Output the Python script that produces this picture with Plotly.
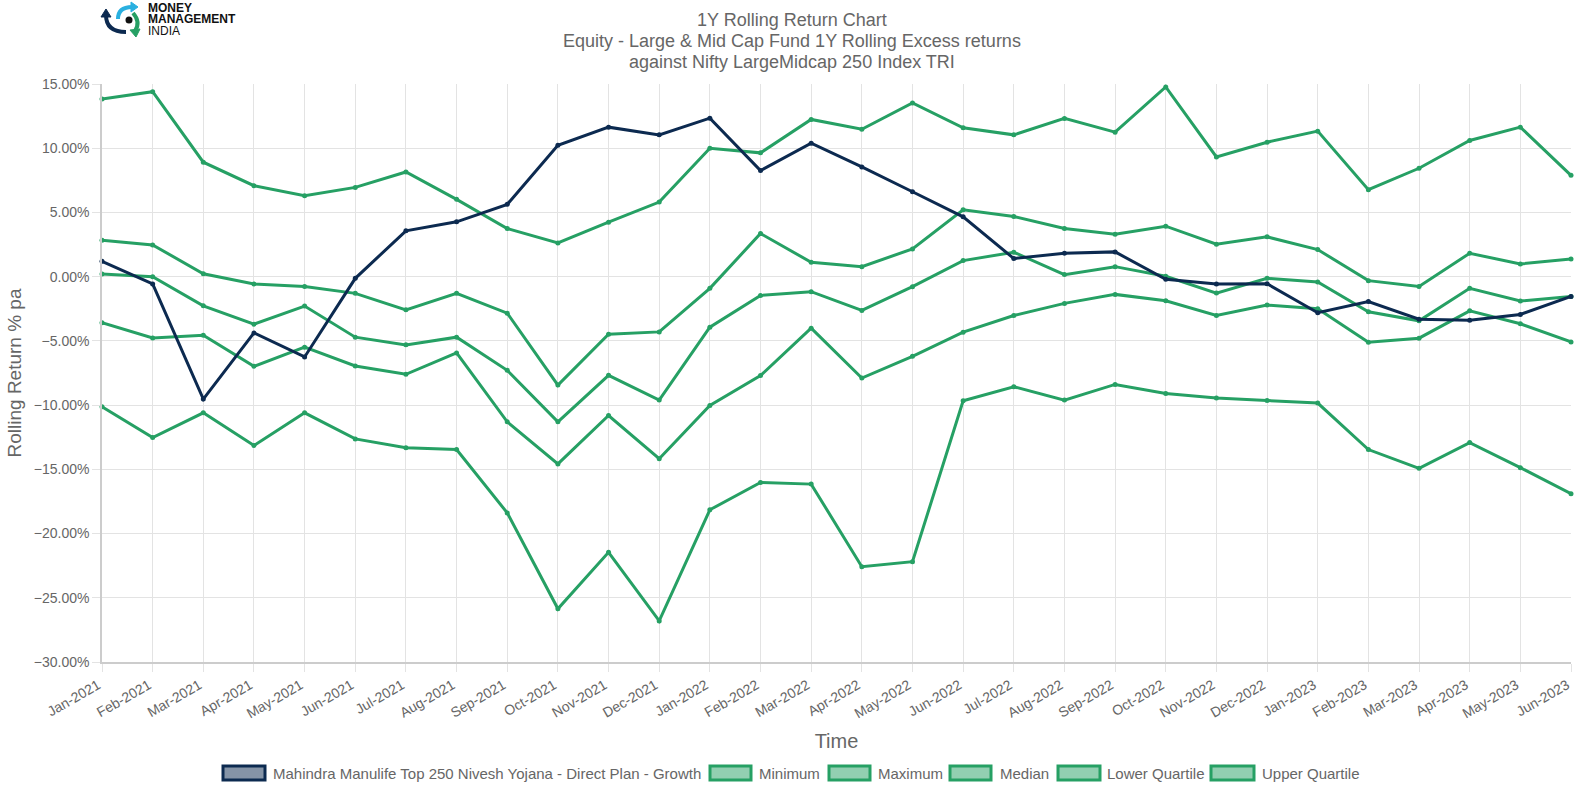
import plotly.graph_objects as go

months = ["Jan-2021", "Feb-2021", "Mar-2021", "Apr-2021", "May-2021", "Jun-2021", "Jul-2021", "Aug-2021",
          "Sep-2021", "Oct-2021", "Nov-2021", "Dec-2021", "Jan-2022", "Feb-2022", "Mar-2022", "Apr-2022",
          "May-2022", "Jun-2022", "Jul-2022", "Aug-2022", "Sep-2022", "Oct-2022", "Nov-2022", "Dec-2022",
          "Jan-2023", "Feb-2023", "Mar-2023", "Apr-2023", "May-2023", "Jun-2023"]

fund = [1.20, -0.57, -9.53, -4.38, -6.25, -0.13, 3.57, 4.27, 5.63, 10.23, 11.64, 11.04, 12.34, 8.26, 10.39,
        8.54, 6.61, 4.66, 1.41, 1.82, 1.93, -0.21, -0.57, -0.55, -2.81, -1.93, -3.31, -3.39, -2.94, -1.54]

minimum = [-10.13, -12.53, -10.60, -13.15, -10.60, -12.63, -13.31, -13.46, -18.39, -25.86, -21.46, -26.80,
           -18.15, -16.02, -16.15, -22.58, -22.19, -9.66, -8.57, -9.61, -8.39, -9.09, -9.45, -9.64, -9.84,
           -13.46, -14.92, -12.92, -14.87, -16.90]

maximum = [13.83, 14.40, 8.91, 7.08, 6.30, 6.95, 8.15, 6.02, 3.75, 2.63, 4.24, 5.81, 10.00, 9.64, 12.24,
           11.48, 13.52, 11.59, 11.04, 12.32, 11.25, 14.77, 9.32, 10.47, 11.33, 6.77, 8.44, 10.60, 11.64, 7.89]

median = [0.21, 0.00, -2.27, -3.70, -2.29, -4.71, -5.31, -4.71, -7.29, -11.30, -7.68, -9.61, -3.93, -1.46,
          -1.17, -2.63, -0.78, 1.25, 1.90, 0.16, 0.78, 0.03, -1.28, -0.13, -0.42, -2.73, -3.44, -0.91, -1.90, -1.54]

lower_quartile = [-3.59, -4.77, -4.56, -6.98, -5.49, -6.95, -7.60, -5.94, -11.30, -14.58, -10.81, -14.17,
                  -10.03, -7.70, -4.01, -7.89, -6.20, -4.32, -3.02, -2.08, -1.38, -1.88, -3.02, -2.21, -2.50,
                  -5.10, -4.79, -2.66, -3.67, -5.08]

upper_quartile = [2.84, 2.47, 0.23, -0.57, -0.76, -1.30, -2.58, -1.30, -2.84, -8.44, -4.48, -4.30, -0.91,
                  3.36, 1.12, 0.78, 2.16, 5.21, 4.69, 3.75, 3.31, 3.93, 2.53, 3.10, 2.11, -0.31, -0.76,
                  1.82, 0.99, 1.38]

fund_name = "Mahindra Manulife Top 250 Nivesh Yojana - Direct Plan - Growth"
green_series = [("Minimum", minimum), ("Maximum", maximum), ("Median", median),
                ("Lower Quartile", lower_quartile), ("Upper Quartile", upper_quartile)]

title_lines = ["1Y Rolling Return Chart",
               "Equity - Large & Mid Cap Fund 1Y Rolling Excess returns",
               "against Nifty LargeMidcap 250 Index TRI"]

GREEN = "#26a064"
NAVY = "#0c2a50"
GREEN_FILL = "rgba(38,160,100,0.5)"
NAVY_FILL = "rgba(12,42,80,0.5)"
TXT = "#666666"
FONT = "Liberation Sans, Arial, sans-serif"

W, H = 1583, 791
ML, MR, MT, MB = 102, 12, 84, 129
PW, PH = W - ML - MR, H - MT - MB


def px2x(px):
    return (px - ML) / PW


def py2y(py):
    return (H - MB - py) / PH


fig = go.Figure()
for name, vals in green_series:
    fig.add_trace(go.Scatter(x=months, y=vals, name=name, mode="lines+markers",
                             line=dict(color=GREEN, width=3), marker=dict(color=GREEN, size=5),
                             cliponaxis=False, showlegend=False))
fig.add_trace(go.Scatter(x=months, y=fund, name=fund_name, mode="lines+markers",
                         line=dict(color=NAVY, width=3), marker=dict(color=NAVY, size=5),
                         cliponaxis=False, showlegend=False))

shapes = []
annotations = []

# title lines
for txt, yy in zip(title_lines, [20, 41, 62]):
    annotations.append(dict(text=txt, xref="paper", yref="paper", x=px2x(W / 2), y=py2y(yy),
                            xanchor="center", yanchor="middle", showarrow=False,
                            font=dict(family=FONT, size=18, color=TXT)))

# custom box legend
legend_items = [(fund_name, NAVY, NAVY_FILL, 223, 265, 271),
                ("Minimum", GREEN, GREEN_FILL, 710, 751, 757),
                ("Maximum", GREEN, GREEN_FILL, 829, 870, 876),
                ("Median", GREEN, GREEN_FILL, 950, 991, 998),
                ("Lower Quartile", GREEN, GREEN_FILL, 1058, 1100, 1105),
                ("Upper Quartile", GREEN, GREEN_FILL, 1211, 1254, 1260)]
for label, lc, fc, x0, x1, tx in legend_items:
    shapes.append(dict(type="rect", xref="paper", yref="paper", x0=px2x(x0), x1=px2x(x1),
                       y0=py2y(780), y1=py2y(766), line=dict(color=lc, width=3), fillcolor=fc))
    annotations.append(dict(text=label, xref="paper", yref="paper", x=px2x(tx), y=py2y(773),
                            xanchor="left", yanchor="middle", showarrow=False,
                            font=dict(family=FONT, size=15, color=TXT)))


# logo
def pt(px, py):
    return f"{px2x(px):.5f},{py2y(py):.5f}"


shapes.append(dict(type="circle", xref="paper", yref="paper", x0=px2x(125.5), x1=px2x(132.5),
                   y0=py2y(23.5), y1=py2y(16.5), fillcolor="#111111", line=dict(width=0)))
shapes.append(dict(type="path", xref="paper", yref="paper",
                   path=f"M {pt(118,19)} Q {pt(118,7)} {pt(132,7)}",
                   line=dict(color="#2ab0e0", width=4)))
shapes.append(dict(type="path", xref="paper", yref="paper",
                   path=f"M {pt(131,2)} L {pt(138,7)} L {pt(131,12)} Z",
                   fillcolor="#2ab0e0", line=dict(color="#2ab0e0", width=1)))
shapes.append(dict(type="path", xref="paper", yref="paper",
                   path=f"M {pt(106,15)} Q {pt(106,32)} {pt(126,32)}",
                   line=dict(color="#0c2a50", width=4)))
shapes.append(dict(type="path", xref="paper", yref="paper",
                   path=f"M {pt(101,17)} L {pt(106,9)} L {pt(111,17)} Z",
                   fillcolor="#0c2a50", line=dict(color="#0c2a50", width=1)))
shapes.append(dict(type="path", xref="paper", yref="paper",
                   path=f"M {pt(133,13)} Q {pt(141,22)} {pt(135,31)}",
                   line=dict(color="#26a064", width=4)))
shapes.append(dict(type="path", xref="paper", yref="paper",
                   path=f"M {pt(130,30)} L {pt(136,37)} L {pt(140,29)} Z",
                   fillcolor="#26a064", line=dict(color="#26a064", width=1)))
for txt, yy, bold in [("MONEY", 8, True), ("MANAGEMENT", 19.5, True), ("INDIA", 31, False)]:
    annotations.append(dict(text=f"<b>{txt}</b>" if bold else txt, xref="paper", yref="paper",
                            x=px2x(146), y=py2y(yy), xanchor="left", yanchor="middle", showarrow=False,
                            font=dict(family=FONT, size=12, color="#111111")))

fig.update_layout(
    width=W, height=H,
    margin=dict(l=ML, r=MR, t=MT, b=MB, autoexpand=False),
    paper_bgcolor="white", plot_bgcolor="white",
    font=dict(family=FONT, color=TXT, size=14),
    xaxis=dict(type="category", range=[0, len(months) - 1], showgrid=True, gridcolor="#e3e3e3",
               gridwidth=1, showline=True, linecolor="#cccccc", linewidth=1.5, ticks="outside",
               ticklen=8, tickcolor="#e3e3e3", tickangle=-30, ticklabelshift=-4,
               tickfont=dict(size=14, color=TXT),
               title=dict(text="Time", font=dict(size=20, color=TXT), standoff=14), zeroline=False),
    yaxis=dict(range=[-30, 15], dtick=5, tick0=0, tickformat=".2f", ticksuffix="%", showgrid=True,
               gridcolor="#e3e3e3", gridwidth=1, showline=True, linecolor="#cccccc", linewidth=1.5,
               ticks="outside", ticklen=8, tickcolor="#e3e3e3", tickfont=dict(size=14, color=TXT),
               title=dict(text="Rolling Return % pa", font=dict(size=19, color=TXT), standoff=7),
               zeroline=False),
    shapes=shapes, annotations=annotations, showlegend=False,
)

fig.write_html("out.html", config={"displayModeBar": False},
               post_script="document.body.style.margin='0px';")
